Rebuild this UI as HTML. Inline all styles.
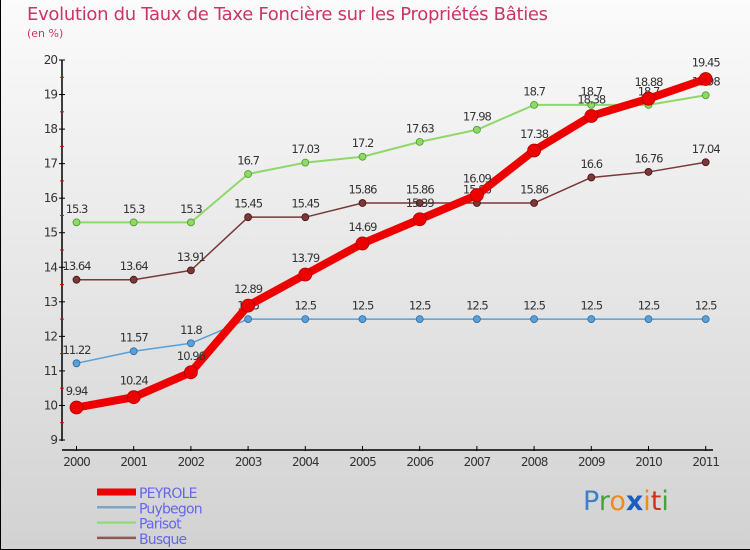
<!DOCTYPE html>
<html><head><meta charset="utf-8"><style>
body{margin:0}
#c{position:relative;width:750px;height:550px;background:linear-gradient(#fbfbfb,#d2d2d2);overflow:hidden;font-family:"DejaVu Sans","Liberation Sans",sans-serif;box-sizing:border-box;border:1px solid #000;border-top:none;border-right:none}
</style></head><body>
<div id="c">
<div style="position:absolute;left:26px;top:4px;font-size:18px;color:#cc3366;letter-spacing:-0.3px">Evolution du Taux de Taxe Foncière sur les Propriétés Bâties</div>
<div style="position:absolute;left:26px;top:27px;font-size:11px;color:#cc3366">(en %)</div>
<svg id="s" width="750" height="550" style="position:absolute;left:0;top:0"></svg>
<div style="position:absolute;left:582px;top:486px;font-size:27px;font-family:'DejaVu Sans',sans-serif"><span style="color:#3a7fd0">P</span><span style="color:#44a33a">r</span><span style="color:#f08a1c">o</span><span style="color:#1a5fc0;font-weight:bold">x</span><span style="color:#f08a1c">i</span><span style="color:#d03020">t</span><span style="color:#44a33a">i</span></div>
</div>
<script>
const years=[2000,2001,2002,2003,2004,2005,2006,2007,2008,2009,2010,2011];
const peyrole=[9.94,10.24,10.96,12.89,13.79,14.69,15.39,16.09,17.38,18.38,18.88,19.45];
const puybegon=[11.22,11.57,11.8,12.5,12.5,12.5,12.5,12.5,12.5,12.5,12.5,12.5];
const parisot=[15.3,15.3,15.3,16.7,17.03,17.2,17.63,17.98,18.7,18.7,18.7,18.98];
const busque=[13.64,13.64,13.91,15.45,15.45,15.86,15.86,15.86,15.86,16.6,16.76,17.04];
const yTicks=[9,10,11,12,13,14,15,16,17,18,19,20];
const NS="http://www.w3.org/2000/svg";
const s=document.getElementById('s');
const X=i=>75.5+i*57.2;
const Y=v=>440-(v-9)*(380/11);
function el(t,a,p){const e=document.createElementNS(NS,t);for(const k in a)e.setAttribute(k,a[k]);(p||s).appendChild(e);return e;}
// axes
let e=el('line',{x1:61,y1:60,x2:61,y2:441,stroke:'#000','stroke-width':1.5});


e=el('line',{x1:61,y1:450,x2:712,y2:450,stroke:'#000','stroke-width':1.5});


yTicks.forEach(v=>{
  el('line',{x1:58,y1:Y(v),x2:64,y2:Y(v),stroke:'#000'});
  if(v<20)el('line',{x1:59,y1:Y(v+0.5),x2:63,y2:Y(v+0.5),stroke:'#e00'});
  const t=el('text',{x:56,y:Y(v)+4,'text-anchor':'end','font-size':12,fill:'#333','letter-spacing':'-1'});t.textContent=v;
  
  
});
years.forEach((y,i)=>{
  el('line',{x1:X(i),y1:446,x2:X(i),y2:451,stroke:'#000'});
  const t=el('text',{x:X(i),y:466,'text-anchor':'middle','font-size':12,fill:'#333','letter-spacing':'-1'});t.textContent=y;
  
  
});
function series(name,data,color,dark,w,r){
  const g=el('g',{});
  
  
  el('polyline',{points:data.map((v,i)=>X(i)+','+Y(v)).join(' '),fill:'none',stroke:color,'stroke-width':w,'stroke-linejoin':'round'},g);
  data.forEach((v,i)=>{
    const c=el('circle',{cx:X(i),cy:Y(v),r:r,fill:color,stroke:dark,'stroke-width':0.8},g);
    
    
    const t=el('text',{x:X(i),y:Y(v)-(r+6),'text-anchor':'middle','font-size':11.5,fill:'#333','letter-spacing':'-1'},g);
    t.textContent=v;
    
    
  });
}
series('parisot',parisot,'#8fd86a','#4a9a20',2,3.5);
series('busque',busque,'#7a3838','#4a1010',1.5,3.5);
series('puybegon',puybegon,'#5aa0d8','#2a6aa0',1.5,3.5);
series('peyrole',peyrole,'#ee0000','#b00000',8,6.5);
// legend
const leg=[['PEYROLE','#ee0000',7],['Puybegon','#7aa6c8',2.5],['Parisot','#9ad880',2.5],['Busque','#8a5a5a',2.5]];
leg.forEach((l,i)=>{
  const yy=492+i*15.3;
  const g=el('g',{});
  
  
  el('line',{x1:96,y1:yy,x2:135,y2:yy,stroke:l[1],'stroke-width':l[2]},g);
  const t=el('text',{x:138,y:yy+6,'font-size':14,fill:'#6666ee','letter-spacing':'-0.8'},g);t.textContent=l[0];
});
</script>
</body></html>
